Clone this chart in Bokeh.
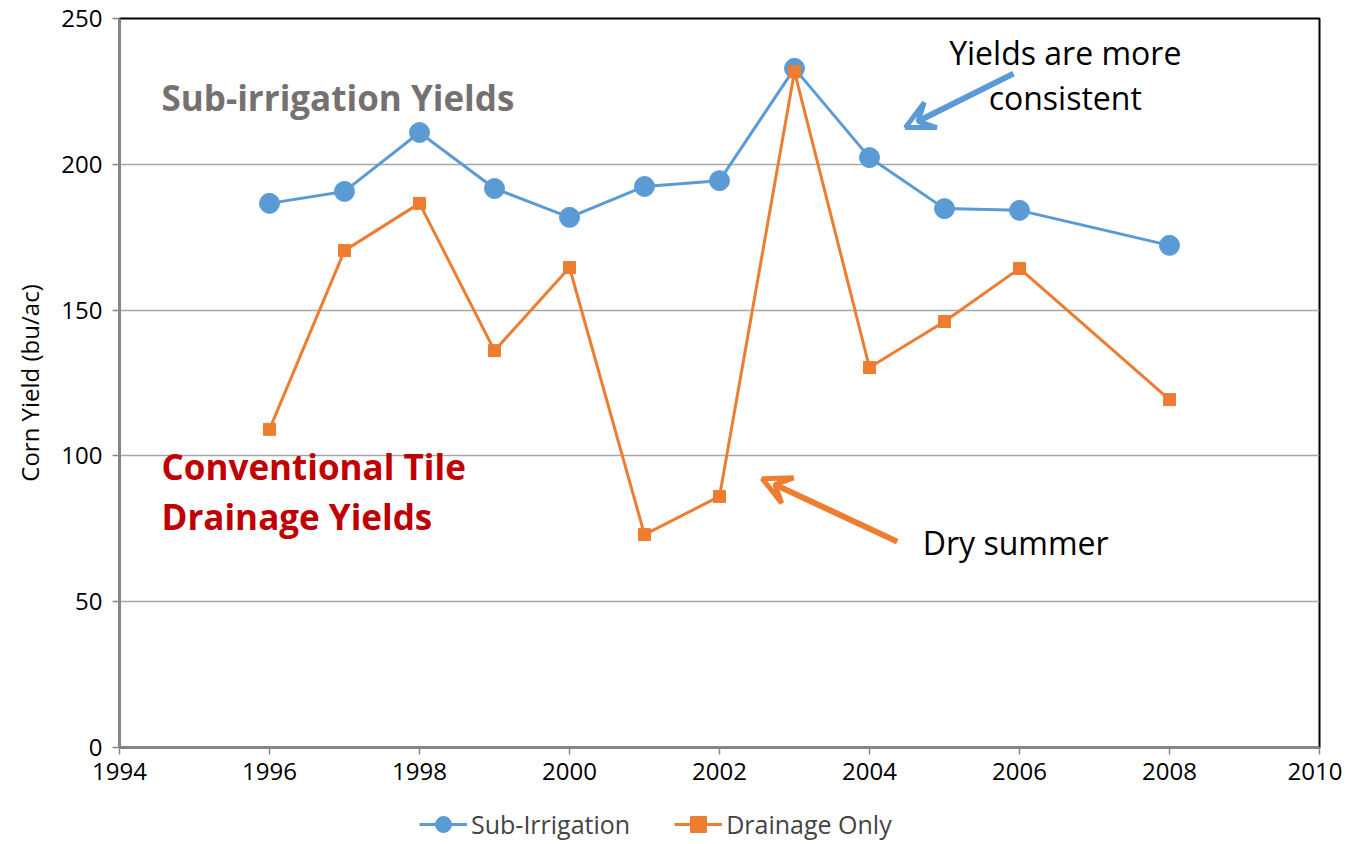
from bokeh.plotting import figure
from bokeh.layouts import column
from bokeh.models import (ColumnDataSource, Legend, LegendItem, Arrow, VeeHead,
                          FixedTicker, Label)
from bokeh.embed import file_html
from bokeh.resources import INLINE

years_sub = [1996, 1997, 1998, 1999, 2000, 2001, 2002, 2003, 2004, 2005, 2006, 2008]
sub_irrigation = [186.6, 190.7, 210.9, 191.7, 181.8, 192.4, 194.4, 232.9, 202.3, 184.8, 184.2, 172.2]
years_drain = [1996, 1997, 1998, 1999, 2000, 2001, 2002, 2003, 2004, 2005, 2006, 2008]
drainage_only = [109.1, 170.4, 186.6, 136.1, 164.6, 73.0, 86.1, 231.8, 130.3, 146.1, 164.3, 119.3]
x_ticks = [1994, 1996, 1998, 2000, 2002, 2004, 2006, 2008, 2010]
y_ticks = [0, 50, 100, 150, 200, 250]

BLUE = "#5B9BD5"
ORANGE = "#ED7D31"
FONT = "Open Sans"

p = figure(frame_width=1200, frame_height=729, x_range=(1994, 2010), y_range=(0, 250),
           output_backend="svg", toolbar_location=None,
           min_border_left=119, min_border_right=23, min_border_top=18, min_border_bottom=53)

p.outline_line_color = "black"
p.outline_line_width = 2
p.xgrid.grid_line_color = None
p.ygrid.grid_line_color = "#A6A6A6"
p.ygrid.grid_line_width = 1.3

xa = p.xaxis[0]
ya = p.yaxis[0]
for ax in (xa, ya):
    ax.axis_line_color = "#868686"
    ax.axis_line_width = 2.5
    ax.major_tick_line_color = "#868686"
    ax.major_tick_line_width = 1.5
    ax.major_tick_out = 7
    ax.major_tick_in = 0
    ax.minor_tick_line_color = None
    ax.major_label_text_font = FONT
    ax.major_label_text_color = "black"
    ax.major_label_text_font_size = "24px"

xa.ticker = FixedTicker(ticks=x_ticks)
ya.ticker = FixedTicker(ticks=y_ticks)
xa.major_label_standoff = 8
ya.major_label_standoff = 10
ya.axis_label = "Corn Yield (bu/ac)"
ya.axis_label_text_font = FONT
ya.axis_label_text_font_size = "24px"
ya.axis_label_text_font_style = "normal"
ya.axis_label_text_color = "black"
ya.axis_label_standoff = 12

src_sub = ColumnDataSource(dict(x=years_sub, y=sub_irrigation))
src_dr = ColumnDataSource(dict(x=years_drain, y=drainage_only))

p.line("x", "y", source=src_sub, line_color=BLUE, line_width=3)
p.scatter("x", "y", source=src_sub, marker="circle", size=20, fill_color=BLUE, line_color=BLUE)
p.line("x", "y", source=src_dr, line_color=ORANGE, line_width=3)
p.scatter("x", "y", source=src_dr, marker="square", size=12, fill_color=ORANGE, line_color=ORANGE)

p.add_layout(Arrow(end=VeeHead(size=28, line_color=BLUE, line_width=5, fill_color=None),
                   x_start=2005.92, y_start=231.1, x_end=2004.48, y_end=212.6,
                   line_color=BLUE, line_width=6))
p.add_layout(Arrow(end=VeeHead(size=28, line_color=ORANGE, line_width=5, fill_color=None),
                   x_start=2004.37, y_start=70.6, x_end=2002.57, y_end=92.2,
                   line_color=ORANGE, line_width=6))

def lab(x, y, text, size, color="black", style="normal", align="left"):
    p.add_layout(Label(x=x, y=y, text=text, text_font=FONT, text_font_size=size,
                       text_color=color, text_font_style=style, text_align=align,
                       text_baseline="middle"))

lab(2006.61, 238.3, "Yields are more", "32px", align="center")
lab(2006.61, 222.9, "consistent", "32px", align="center")
lab(2004.71, 70.3, "Dry summer", "32px")
lab(1994.56, 222.9, "Sub-irrigation Yields", "35px", color="#767171", style="bold")
lab(1994.56, 96.4, "Conventional Tile", "35px", color="#C00000", style="bold")
lab(1994.56, 79.2, "Drainage Yields", "35px", color="#C00000", style="bold")

# Legend strip below the chart (series drawn out of view, only the legend shows)
q = figure(width=1342, height=44, x_range=(0, 1), y_range=(0, 1),
           output_backend="svg", toolbar_location=None,
           x_axis_location=None, y_axis_location=None, min_border=0)
q.outline_line_color = None
q.grid.grid_line_color = None
ql1 = q.line("x", "y", source=src_sub, line_color=BLUE, line_width=3)
qs1 = q.scatter("x", "y", source=src_sub, marker="circle", size=20, fill_color=BLUE, line_color=BLUE)
ql2 = q.line("x", "y", source=src_dr, line_color=ORANGE, line_width=3)
qs2 = q.scatter("x", "y", source=src_dr, marker="square", size=12, fill_color=ORANGE, line_color=ORANGE)

legend = Legend(items=[LegendItem(label="Sub-Irrigation", renderers=[ql1, qs1]),
                       LegendItem(label="Drainage Only", renderers=[ql2, qs2])],
                orientation="horizontal", location=(300, 0),
                label_text_font=FONT, label_text_font_size="25px",
                glyph_width=48, glyph_height=40, label_height=40, spacing=44,
                label_standoff=4, border_line_color=None, background_fill_alpha=0,
                margin=0, padding=2)
q.add_layout(legend, "center")

layout = column(p, q, spacing=0)
open("out.html", "w").write(file_html(layout, INLINE))
